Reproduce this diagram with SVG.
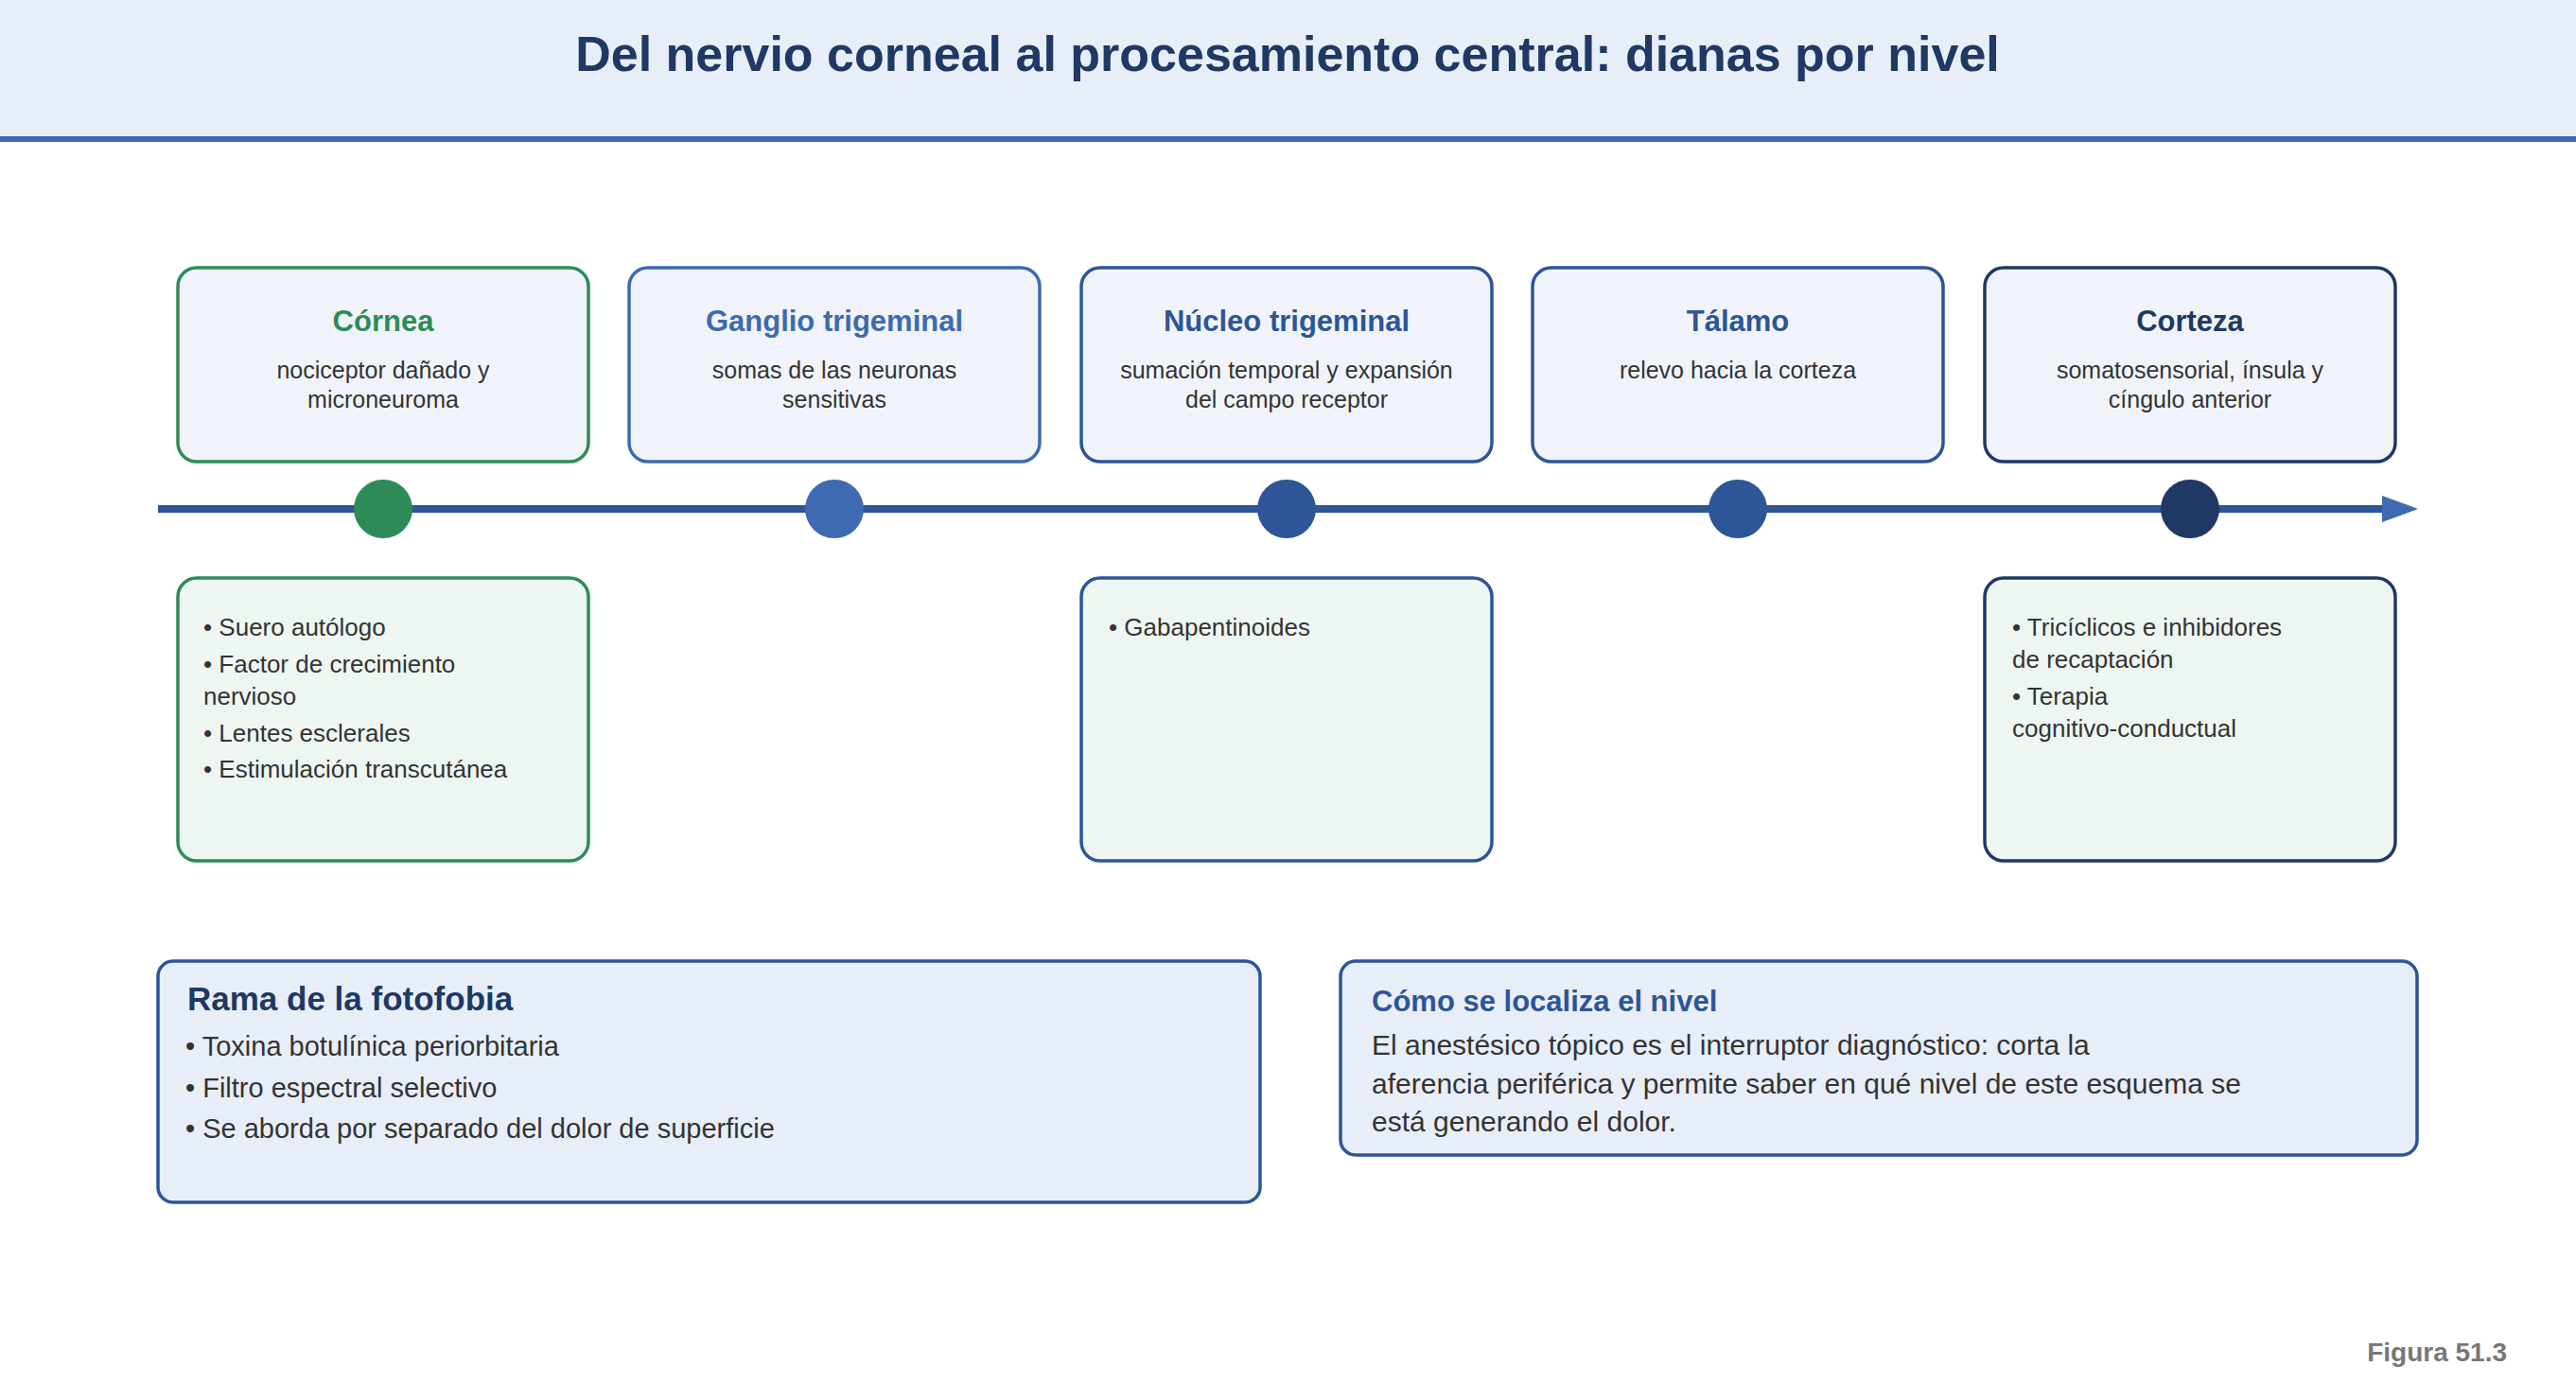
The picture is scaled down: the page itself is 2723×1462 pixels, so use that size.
<svg xmlns="http://www.w3.org/2000/svg" width="2723" height="1462" viewBox="0 0 2723 1462">
<style>
text{font-family:"Liberation Sans",Arial,sans-serif}
.t{font-size:31px;font-weight:bold;text-anchor:middle}
.s{font-size:25px;fill:#333;text-anchor:middle}
.b{font-size:26px;fill:#333}
.top{fill:#f0f4fa;stroke-width:3.5}
.bot{fill:#eef6f1;stroke-width:3.5}
.panel{fill:#e8eef8;stroke:#2d5597;stroke-width:3.5}
</style>
<defs><marker id="ah" markerWidth="10" markerHeight="10" refX="9" refY="5" orient="auto" markerUnits="userSpaceOnUse" viewBox="0 0 10 10"><path d="M0,0L10,5L0,10z" fill="#3d6ab0"/></marker></defs>
<rect x="0" y="0" width="2723" height="146" fill="#e8eef8"/>
<rect x="0" y="144" width="2723" height="6" fill="#3d6ab0"/>
<text x="1361" y="75" font-size="52" font-weight="bold" fill="#1f3864" text-anchor="middle">Del nervio corneal al procesamiento central: dianas por nivel</text>
<g id="connectors">
<line x1="167" y1="538" x2="2520" y2="538" stroke="#2d5597" stroke-width="8"/>
<path d="M2518,524L2556,538L2518,552z" fill="#3d6ab0"/>
</g>
<g id="cornea">
<rect class="top" x="188" y="283" width="434" height="205" rx="20" stroke="#2e8b57"/>
<text class="t" x="405" y="350" fill="#2e8b57">Córnea</text>
<text class="s" x="405" y="400">nociceptor dañado y</text><text class="s" x="405" y="431">microneuroma</text>
<circle cx="405" cy="538" r="31" fill="#2e8b57"/>
<rect class="bot" x="188" y="611" width="434" height="299" rx="20" stroke="#2e8b57"/>
<text class="b" x="215" y="672">• Suero autólogo</text>
<text class="b" x="215" y="711">• Factor de crecimiento</text>
<text class="b" x="215" y="745">nervioso</text>
<text class="b" x="215" y="784">• Lentes esclerales</text>
<text class="b" x="215" y="822">• Estimulación transcutánea</text>
</g>
<g id="ganglio">
<rect class="top" x="665" y="283" width="434" height="205" rx="20" stroke="#3d6ab0"/>
<text class="t" x="882" y="350" fill="#3d6ab0">Ganglio trigeminal</text>
<text class="s" x="882" y="400">somas de las neuronas</text><text class="s" x="882" y="431">sensitivas</text>
<circle cx="882" cy="538" r="31" fill="#3d6ab0"/>
</g>
<g id="nucleo">
<rect class="top" x="1143" y="283" width="434" height="205" rx="20" stroke="#2d5597"/>
<text class="t" x="1360" y="350" fill="#2d5597">Núcleo trigeminal</text>
<text class="s" x="1360" y="400">sumación temporal y expansión</text><text class="s" x="1360" y="431">del campo receptor</text>
<circle cx="1360" cy="538" r="31" fill="#2d5597"/>
<rect class="bot" x="1143" y="611" width="434" height="299" rx="20" stroke="#2d5597"/>
<text class="b" x="1172" y="672">• Gabapentinoides</text>
</g>
<g id="talamo">
<rect class="top" x="1620" y="283" width="434" height="205" rx="20" stroke="#2d5597"/>
<text class="t" x="1837" y="350" fill="#2d5597">Tálamo</text>
<text class="s" x="1837" y="400">relevo hacia la corteza</text>
<circle cx="1837" cy="538" r="31" fill="#2d5597"/>
</g>
<g id="corteza">
<rect class="top" x="2098" y="283" width="434" height="205" rx="20" stroke="#1f3864"/>
<text class="t" x="2315" y="350" fill="#1f3864">Corteza</text>
<text class="s" x="2315" y="400">somatosensorial, ínsula y</text><text class="s" x="2315" y="431">cíngulo anterior</text>
<circle cx="2315" cy="538" r="31" fill="#1f3864"/>
<rect class="bot" x="2098" y="611" width="434" height="299" rx="20" stroke="#1f3864"/>
<text class="b" x="2127" y="672">• Tricíclicos e inhibidores</text>
<text class="b" x="2127" y="706">de recaptación</text>
<text class="b" x="2127" y="745">• Terapia</text>
<text class="b" x="2127" y="779">cognitivo-conductual</text>
</g>
<g id="fotofobia">
<rect class="panel" x="167" y="1016" width="1165" height="255" rx="16"/>
<text x="198" y="1068" font-size="35" font-weight="bold" fill="#1f3864">Rama de la fotofobia</text>
<text x="196" y="1116" font-size="29" fill="#333">• Toxina botulínica periorbitaria</text>
<text x="196" y="1160" font-size="29" fill="#333">• Filtro espectral selectivo</text>
<text x="196" y="1203" font-size="29" fill="#333">• Se aborda por separado del dolor de superficie</text>
</g>
<g id="localiza">
<rect class="panel" x="1417" y="1016" width="1138" height="205" rx="16"/>
<text x="1450" y="1069" font-size="31" font-weight="bold" fill="#2d5597">Cómo se localiza el nivel</text>
<text x="1450" y="1115" font-size="30" fill="#333">El anestésico tópico es el interruptor diagnóstico: corta la</text>
<text x="1450" y="1156" font-size="30" fill="#333">aferencia periférica y permite saber en qué nivel de este esquema se</text>
<text x="1450" y="1196" font-size="30" fill="#333">está generando el dolor.</text>
</g>
<text x="2650" y="1439" font-size="28" font-weight="bold" fill="#777" text-anchor="end">Figura 51.3</text>
</svg>
